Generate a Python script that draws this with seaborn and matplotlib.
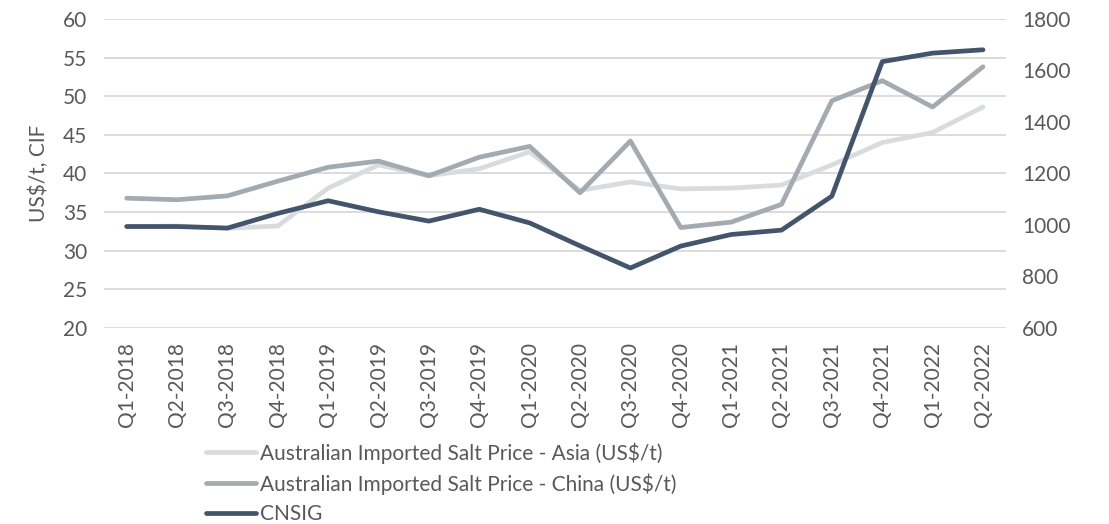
import matplotlib
matplotlib.use("Agg")
import matplotlib.pyplot as plt
import seaborn as sns
import pandas as pd

# Quarterly data
quarters = ["Q1-2018", "Q2-2018", "Q3-2018", "Q4-2018",
            "Q1-2019", "Q2-2019", "Q3-2019", "Q4-2019",
            "Q1-2020", "Q2-2020", "Q3-2020", "Q4-2020",
            "Q1-2021", "Q2-2021", "Q3-2021", "Q4-2021",
            "Q1-2022", "Q2-2022"]
asia = [33.1, 33.2, 32.9, 33.2, 38.1, 41.1, 39.7, 40.6, 42.8, 37.8,
        38.9, 38.0, 38.1, 38.5, 41.1, 44.0, 45.3, 48.6]
china = [36.8, 36.6, 37.1, 39.0, 40.8, 41.6, 39.7, 42.1, 43.5, 37.5,
         44.2, 33.0, 33.7, 36.0, 49.4, 52.0, 48.6, 53.8]
cnsig = [994, 994, 988, 1045, 1094, 1051, 1015, 1061, 1008, 919,
         833, 918, 963, 980, 1112, 1634, 1667, 1680]

labels = ["Australian Imported Salt Price - Asia (US$/t)",
          "Australian Imported Salt Price - China (US$/t)",
          "CNSIG"]
colors = ["#D9DCDF", "#A3AAB0", "#44546A"]

df = pd.DataFrame({"idx": range(len(quarters)), "asia": asia,
                   "china": china, "cnsig": cnsig})

sns.set_style("white")
plt.rcParams["font.family"] = ["Lato", "DejaVu Sans"]
text_col = "#595959"
fs = 15

fig = plt.figure(figsize=(11.09, 5.24), dpi=100)
ax = fig.add_axes([0.0938, 0.374, 0.813, 0.59])
ax2 = ax.twinx()

lw = 3.4
sns.lineplot(data=df, x="idx", y="asia", ax=ax, color=colors[0], lw=lw, label=labels[0], zorder=2)
sns.lineplot(data=df, x="idx", y="china", ax=ax, color=colors[1], lw=lw, label=labels[1], zorder=3)
sns.lineplot(data=df, x="idx", y="cnsig", ax=ax2, color=colors[2], lw=lw, label=labels[2], zorder=4)

ax.set_ylim(20, 60)
ax.set_yticks(range(20, 61, 5))
ax2.set_ylim(600, 1800)
ax2.set_yticks(range(600, 1801, 200))
ax.set_xlim(-0.45, len(quarters) - 0.55)
ax.set_xticks(range(len(quarters)))
ax.set_xticklabels(quarters, rotation=90)

ax.grid(axis="y", color="#D9D9D9", lw=1.3)
ax.set_axisbelow(True)
ax2.grid(False)
for a in (ax, ax2):
    for s in a.spines.values():
        s.set_visible(False)
    a.tick_params(length=0, labelsize=fs, colors=text_col)
    a.set_xlabel("")
ax2.set_ylabel("")
ax.set_ylabel("US$/t, CIF", fontsize=fs, color=text_col, labelpad=10)
ax.tick_params(axis="x", pad=10)
ax.tick_params(axis="y", pad=12)
ax2.tick_params(axis="y", pad=12)

h1, l1 = ax.get_legend_handles_labels()
h2, l2 = ax2.get_legend_handles_labels()
ax.get_legend().remove()
ax2.get_legend().remove()
fig.legend(h1 + h2, l1 + l2, loc="upper left", bbox_to_anchor=(0.186, 0.156),
           frameon=False, fontsize=fs, handlelength=2.4, handletextpad=0.2,
           labelspacing=0.45, labelcolor=text_col, borderaxespad=0, borderpad=0)

fig.savefig("out.png", dpi=100)
